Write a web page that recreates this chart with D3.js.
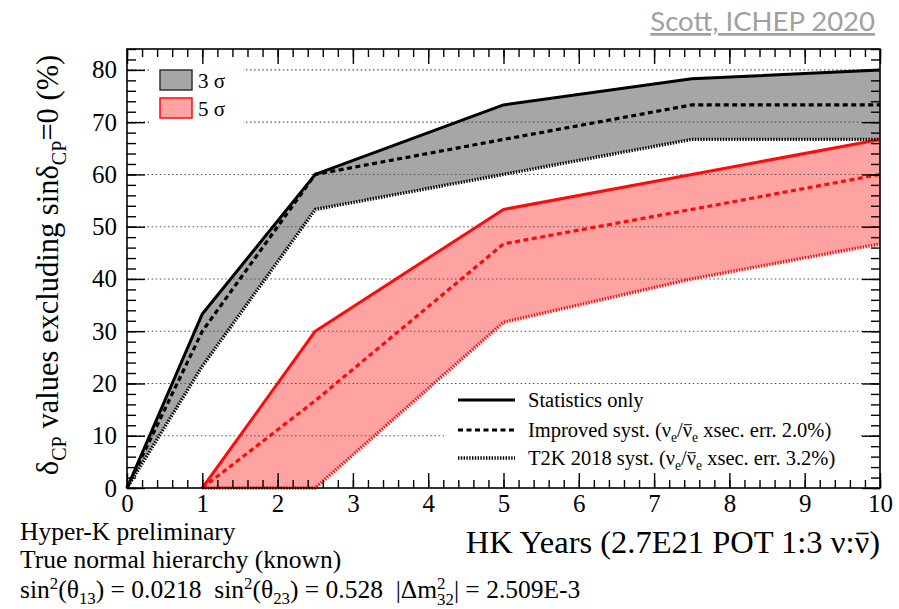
<!DOCTYPE html>
<html>
<head>
<meta charset="utf-8">
<script src="https://cdn.jsdelivr.net/npm/d3@7"></script>
<style>
  body { margin: 0; background: #fff; }
  svg { display: block; }
  text { white-space: pre; }
</style>
</head>
<body>
<svg id="chart" width="899" height="609"></svg>
<script>
// Exposure in HK years and fraction of delta_CP values excluding sin(delta_CP)=0 (%)
const years = [0, 1, 2.5, 5, 7.5, 10];

// 3 sigma
const stat3 = [0, 33.3, 60, 73.3, 78.3, 80];
const impr3 = [0, 30, 60, 66.7, 73.3, 73.3];
const t2k3  = [0, 23.3, 53.3, 60, 66.7, 66.7];

// 5 sigma (no sensitivity before the first year)
const stat5 = [null, 0, 30, 53.3, 60, 66.7];
const impr5 = [null, 0, 16.7, 46.7, 53.3, 60];
const t2k5  = [null, 0, 0, 31.7, 40, 46.7];

const xMajor = [0, 1, 2, 3, 4, 5, 6, 7, 8, 9, 10];
const yMajor = [0, 10, 20, 30, 40, 50, 60, 70, 80];
const gridVals = [10, 20, 30, 40, 50, 60, 70, 80];

const legendSigma = ["3 σ", "5 σ"];

const serif = "'Liberation Serif','Times New Roman',serif";
const svg = d3.select("#chart");

const x = d3.scaleLinear().domain([0, 10]).range([127, 880]);
const y = d3.scaleLinear().domain([0, 84]).range([488, 49]);

const GREY = "#a6a6a6";
const PINK = "#ffa2a2";
const RED = "#ff0a0a";

const styles = {
  solid:  { dash: null, width: 3 },
  dashed: { dash: "5,3.5", width: 3.2 },
  dotted: { dash: "1.4,1.4", width: 3.4 }
};

function pts(vals) {
  return years.map((yr, i) => ({ x: yr, v: vals[i] })).filter(d => d.v != null);
}
function band(lo, hi) {
  return years.map((yr, i) => ({ x: yr, lo: lo[i], hi: hi[i] })).filter(d => d.hi != null);
}

const area = d3.area().x(d => x(d.x)).y0(d => y(d.lo)).y1(d => y(d.hi));
const line = d3.line().x(d => x(d.x)).y(d => y(d.v));

// filled bands between statistics-only and T2K 2018 systematics
svg.append("path").attr("d", area(band(t2k5, stat5))).attr("fill", PINK);
svg.append("path").attr("d", area(band(t2k3, stat3))).attr("fill", GREY);

// dotted horizontal grid
svg.append("g").selectAll("line").data(gridVals).join("line")
  .attr("x1", x(0)).attr("x2", x(10))
  .attr("y1", d => y(d)).attr("y2", d => y(d))
  .attr("stroke", "#555").attr("stroke-width", 1.1)
  .attr("stroke-dasharray", "1.5,2.6");

// legend backgrounds
svg.append("rect").attr("x", 150).attr("y", 51).attr("width", 93).attr("height", 77).attr("fill", "#fff");
svg.append("rect").attr("x", 444).attr("y", 386).attr("width", 416).attr("height", 84).attr("fill", "#fff");

// curves
function drawLine(vals, color, style) {
  const s = styles[style];
  svg.append("path").attr("d", line(pts(vals)))
    .attr("fill", "none").attr("stroke", color)
    .attr("stroke-width", s.width)
    .attr("stroke-dasharray", s.dash)
    .attr("stroke-linejoin", "round");
}
drawLine(t2k5, RED, "dotted");
drawLine(impr5, RED, "dashed");
drawLine(stat5, RED, "solid");
drawLine(t2k3, "#000", "dotted");
drawLine(impr3, "#000", "dashed");
drawLine(stat3, "#000", "solid");

// axes with inward ticks on all four sides
function styleAxis(g) {
  g.attr("font-family", serif).attr("font-size", 25);
  g.select(".domain").remove();
  g.selectAll(".tick line").attr("stroke", "#000").attr("stroke-width", 1.4);
  g.selectAll(".tick text").attr("font-family", serif).attr("font-size", 25)
    .style("font-family", serif).attr("fill", "#000");
}
const xMinor = d3.range(0, 10.001, 0.2).map(v => +v.toFixed(1));
const yMinor = d3.range(0, 84.001, 2);

svg.append("g").attr("transform", "translate(0,488)")
  .call(d3.axisBottom(x).tickValues(xMinor).tickSize(-8).tickFormat("")).call(styleAxis);
svg.append("g").attr("transform", "translate(0,488)")
  .call(d3.axisBottom(x).tickValues(xMajor).tickSize(-15).tickPadding(6).tickFormat(d3.format("d"))).call(styleAxis);
svg.append("g").attr("transform", "translate(0,49)")
  .call(d3.axisTop(x).tickValues(xMinor).tickSize(-8).tickFormat("")).call(styleAxis);
svg.append("g").attr("transform", "translate(0,49)")
  .call(d3.axisTop(x).tickValues(xMajor).tickSize(-15).tickFormat("")).call(styleAxis);

svg.append("g").attr("transform", "translate(127,0)")
  .call(d3.axisLeft(y).tickValues(yMinor).tickSize(-9).tickFormat("")).call(styleAxis);
svg.append("g").attr("transform", "translate(127,0)")
  .call(d3.axisLeft(y).tickValues(yMajor).tickSize(-18).tickPadding(10).tickFormat(d3.format("d"))).call(styleAxis);
svg.append("g").attr("transform", "translate(880,0)")
  .call(d3.axisRight(y).tickValues(yMinor).tickSize(-9).tickFormat("")).call(styleAxis);
svg.append("g").attr("transform", "translate(880,0)")
  .call(d3.axisRight(y).tickValues(yMajor).tickSize(-18).tickFormat("")).call(styleAxis);

// frame
svg.append("rect").attr("x", x(0)).attr("y", y(84))
  .attr("width", x(10) - x(0)).attr("height", y(0) - y(84))
  .attr("fill", "none").attr("stroke", "#000").attr("stroke-width", 1.6);

// text helper: parts are [string, mode]; "bar" draws an antiparticle bar over the glyph
function rich(t, parts, size) {
  let off = 0, idx = 0;
  const bars = [];
  parts.forEach(([s, mode]) => {
    const ts = t.append("tspan").text(s);
    let target = 0, fs = size;
    if (mode === "sup") { target = -0.37 * size; fs = 0.66 * size; }
    if (mode === "sub") { target = 0.25 * size; fs = 0.66 * size; }
    if (mode === "subback") { target = 0.27 * size; fs = 0.66 * size; ts.attr("dx", -0.33 * size); }
    if (mode === "bar") bars.push(idx);
    ts.attr("font-size", fs).attr("dy", target - off);
    off = target;
    idx += s.length;
  });
  const node = t.node();
  bars.forEach(i => {
    const a = node.getStartPositionOfChar(i), b = node.getEndPositionOfChar(i);
    const yy = a.y - 0.6 * size;
    d3.select(node.parentNode).append("line")
      .attr("x1", a.x + 0.06 * size).attr("x2", b.x - 0.02 * size)
      .attr("y1", yy).attr("y2", yy)
      .attr("stroke", "#000").attr("stroke-width", Math.max(1, size * 0.05));
  });
}

// top-left legend (significance bands)
const topLeg = svg.append("g");
[[GREY, "#333"], [PINK, RED]].forEach((c, i) => {
  topLeg.append("rect").attr("x", 160).attr("y", 70 + i * 28).attr("width", 32).attr("height", 20)
    .attr("fill", c[0]).attr("stroke", c[1]).attr("stroke-width", 1.5);
  topLeg.append("text").attr("x", 198).attr("y", 88 + i * 28)
    .attr("font-family", serif).attr("font-size", 21).text(legendSigma[i]);
});

// bottom legend (systematics models)
const botLeg = svg.append("g").attr("font-family", serif);
const legRows = [
  { style: "solid", y: 400, parts: [["Statistics only", "n"]] },
  { style: "dashed", y: 430, parts: [["Improved syst. (ν", "n"], ["e", "sub"], ["/", "n"], ["ν", "bar"], ["e", "sub"], [" xsec. err. 2.0%)", "n"]] },
  { style: "dotted", y: 458, parts: [["T2K 2018 syst. (ν", "n"], ["e", "sub"], ["/", "n"], ["ν", "bar"], ["e", "sub"], [" xsec. err. 3.2%)", "n"]] }
];
legRows.forEach(r => {
  const s = styles[r.style];
  botLeg.append("line").attr("x1", 458).attr("x2", 515).attr("y1", r.y).attr("y2", r.y)
    .attr("stroke", "#000").attr("stroke-width", s.width).attr("stroke-dasharray", s.dash);
  const t = botLeg.append("text").attr("x", 528).attr("y", r.y + 7).attr("font-size", 20.5);
  rich(t, r.parts, 20.5);
});

// axis titles
const xtg = svg.append("g");
const xt = xtg.append("text").attr("x", 880).attr("y", 553).attr("text-anchor", "end")
  .attr("font-family", serif).attr("font-size", 32.5);
rich(xt, [["HK Years (2.7E21 POT 1:3 ν:", "n"], ["ν", "bar"], [")", "n"]], 32.5);

const yt = svg.append("text").attr("transform", "translate(58,265) rotate(-90)")
  .attr("text-anchor", "middle").attr("font-family", serif).attr("font-size", 30.5);
rich(yt, [["δ", "n"], ["CP", "sub"], [" values excluding sinδ", "n"], ["CP", "sub"], ["=0 (%)", "n"]], 30.5);

// analysis notes
const notes = svg.append("g").attr("font-family", serif).attr("font-size", 25.5);
notes.append("text").attr("x", 20).attr("y", 540).text("Hyper-K preliminary");
notes.append("text").attr("x", 20).attr("y", 568).text("True normal hierarchy (known)");
const n3 = notes.append("text").attr("x", 20).attr("y", 598);
rich(n3, [["sin", "n"], ["2", "sup"], ["(θ", "n"], ["13", "sub"], [") = 0.0218  sin", "n"], ["2", "sup"], ["(θ", "n"], ["23", "sub"],
          [") = 0.528  |Δm", "n"], ["2", "sup"], ["32", "subback"], ["| = 2.509E-3", "n"]], 25.5);

// credit
svg.append("text").attr("x", 875).attr("y", 31).attr("text-anchor", "end")
  .attr("font-family", "Lato, 'Open Sans', sans-serif").attr("font-size", 27.5)
  .attr("fill", "#a0a0a0").attr("text-decoration", "underline")
  .text("Scott, ICHEP 2020");
</script>
</body>
</html>
